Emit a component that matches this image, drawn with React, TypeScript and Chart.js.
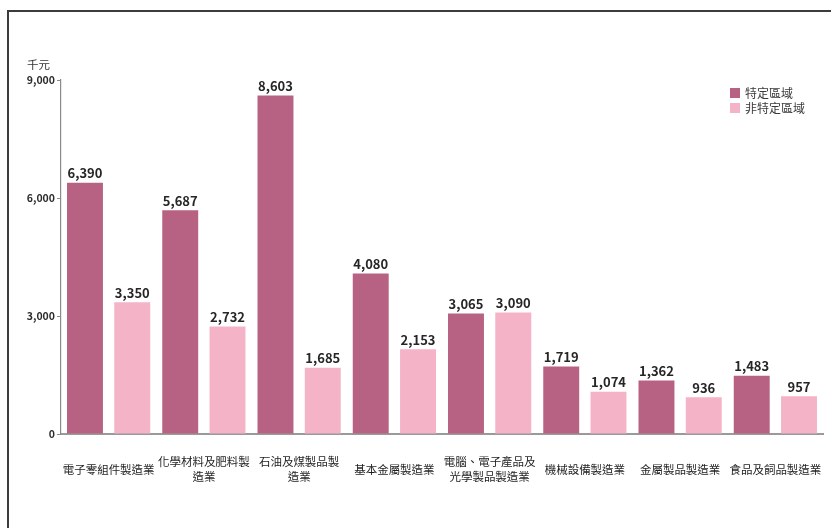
import React, { useEffect, useRef } from "react";
import { Chart, registerables } from "chart.js";

Chart.register(...registerables);

const categories: (string | string[])[] = [
  "電子零組件製造業",
  ["化學材料及肥料製", "造業"],
  ["石油及煤製品製", "造業"],
  "基本金屬製造業",
  ["電腦、電子產品及", "光學製品製造業"],
  "機械設備製造業",
  "金屬製品製造業",
  "食品及飼品製造業",
];
const seriesNames = ["特定區域", "非特定區域"];
const specificValues = [6390, 5687, 8603, 4080, 3065, 1719, 1362, 1483];
const nonSpecificValues = [3350, 2732, 1685, 2153, 3090, 1074, 936, 957];
const yTicks = [0, 3000, 6000, 9000];
const unitLabel = "千元";

const COLORS = ["#b76282", "#f4b3c7"];
const FONT = "'Noto Sans CJK TC', 'Noto Sans', sans-serif";

const fmt = (v: number) => v.toLocaleString("en-US");

const valueLabels = {
  id: "valueLabels",
  afterDatasetsDraw(chart: any) {
    const ctx = chart.ctx;
    ctx.save();
    ctx.font = `bold 13px ${FONT}`;
    ctx.fillStyle = "#262626";
    ctx.textAlign = "center";
    ctx.textBaseline = "bottom";
    chart.data.datasets.forEach((ds: any, i: number) => {
      const meta = chart.getDatasetMeta(i);
      meta.data.forEach((el: any, j: number) => {
        ctx.fillText(fmt(ds.data[j]), el.x, el.y - 3);
      });
    });
    ctx.restore();
  },
};

export default function App() {
  const ref = useRef<HTMLCanvasElement>(null);
  useEffect(() => {
    if (!ref.current) return;
    const chart = new Chart(ref.current, {
      type: "bar",
      data: {
        labels: categories,
        datasets: [
          { label: seriesNames[0], data: specificValues, backgroundColor: COLORS[0] },
          { label: seriesNames[1], data: nonSpecificValues, backgroundColor: COLORS[1] },
        ],
      },
      options: {
        responsive: false,
        animation: false,
        devicePixelRatio: 1,
        layout: { padding: { left: 0, right: 8, top: 80, bottom: 34 } },
        datasets: { bar: { categoryPercentage: 0.993, barPercentage: 0.76 } },
        plugins: { legend: { display: false }, tooltip: { enabled: false } },
        scales: {
          x: {
            grid: { display: false, drawTicks: false },
            border: { display: true, color: "#9a9a9a", width: 2 },
            ticks: {
              autoSkip: false,
              maxRotation: 0,
              minRotation: 0,
              crossAlign: "center",
              padding: 28,
              color: "#1e1e1e",
              font: { family: FONT, size: 11.5, lineHeight: 1.25 },
            },
            afterFit: (s: any) => {
              s.height = 60;
              s.paddingLeft = 0;
              s.paddingRight = 0;
            },
          },
          y: {
            min: 0,
            max: 9000,
            afterBuildTicks: (s: any) => {
              s.ticks = yTicks.map((v) => ({ value: v }));
            },
            grid: { drawOnChartArea: false, drawTicks: true, tickLength: 4, color: "#8a8a8a" },
            border: { display: true, color: "#8a8a8a", width: 1.2 },
            ticks: {
              padding: 2,
              color: "#2a2a2a",
              font: { family: FONT, size: 10.5, weight: "bold" },
              callback: (v: any) => fmt(Number(v)),
            },
            afterFit: (s: any) => {
              s.width = 61;
              s.paddingTop = 0;
              s.paddingBottom = 0;
            },
          },
        },
      },
      plugins: [valueLabels],
    });
    return () => chart.destroy();
  }, []);

  return (
    <div
      style={{
        position: "fixed",
        left: 0,
        top: 0,
        width: 831,
        height: 528,
        overflow: "hidden",
        background: "#fff",
        fontFamily: FONT,
      }}
    >
      <div
        style={{
          position: "absolute",
          left: 7,
          top: 10,
          width: 1000,
          height: 1000,
          borderTop: "2px solid #3c3c3c",
          borderLeft: "2px solid #3c3c3c",
        }}
      />
      <canvas ref={ref} width={831} height={528} style={{ position: "absolute", left: 0, top: 0 }} />
      <div
        style={{
          position: "absolute",
          left: 27,
          top: 56,
          fontSize: 11.5,
          color: "#333",
          lineHeight: "16px",
        }}
      >
        {unitLabel}
      </div>
      <div style={{ position: "absolute", left: 730, top: 85, fontSize: 12, color: "#3a3a3a" }}>
        {seriesNames.map((n, i) => (
          <div key={n} style={{ display: "flex", alignItems: "center", height: 15 }}>
            <span
              style={{
                display: "inline-block",
                width: 10,
                height: 10,
                background: COLORS[i],
                marginRight: 5,
              }}
            />
            <span style={{ lineHeight: "15px" }}>{n}</span>
          </div>
        ))}
      </div>
    </div>
  );
}
